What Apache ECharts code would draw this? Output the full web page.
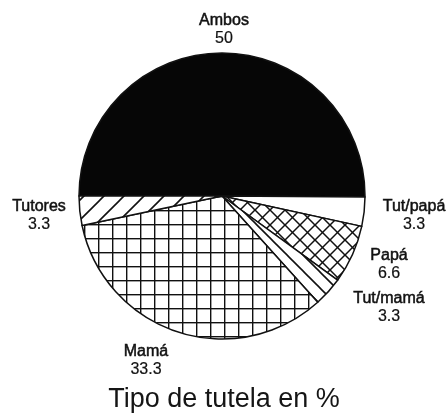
<!DOCTYPE html>
<html>
<head>
<meta charset="utf-8">
<script src="https://cdn.jsdelivr.net/npm/echarts@6/dist/echarts.min.js"></script>
<style>
  html, body { margin: 0; padding: 0; background: #fff; }
  #chart { width: 448px; height: 414px; }
</style>
</head>
<body>
<div id="chart"></div>
<script>
// Guardianship type shares (%)
const categories = ['Ambos', 'Tut/papá', 'Papá', 'Tut/mamá', 'Mamá', 'Tutores'];
const values = [50, 3.3, 6.6, 3.3, 33.3, 3.3];

// Where each two-line label block is centred (pixels)
const labelAnchors = [
  [224, 30], [414, 216], [389, 265], [389, 308], [146, 361], [39, 216]
];

const INK = '#111';
const LABEL_FONT = '"Liberation Sans", Arial, sans-serif';

function tile(size, lineWidth, draw) {
  const c = document.createElement('canvas');
  c.width = size; c.height = size;
  const ctx = c.getContext('2d');
  ctx.fillStyle = '#fff';
  ctx.fillRect(0, 0, size, size);
  ctx.strokeStyle = INK;
  ctx.lineWidth = lineWidth;
  ctx.lineCap = 'square';
  draw(ctx, size);
  return { image: c, repeat: 'repeat' };
}

function seg(ctx, x1, y1, x2, y2) {
  ctx.beginPath(); ctx.moveTo(x1, y1); ctx.lineTo(x2, y2); ctx.stroke();
}

// "/" hatching
const slashFill = tile(20, 1.6, (ctx, s) => {
  seg(ctx, -2, s + 2, s + 2, -2);
  seg(ctx, -2, 2, 2, -2);
  seg(ctx, s - 2, s + 2, s + 2, s - 2);
});
// "\" hatching
const backslashFill = tile(16, 1.6, (ctx, s) => {
  seg(ctx, -2, -2, s + 2, s + 2);
  seg(ctx, s - 2, -2, s + 2, 2);
  seg(ctx, -2, s - 2, 2, s + 2);
});
// diagonal cross-hatching
const crossFill = tile(15, 1.5, (ctx, s) => {
  seg(ctx, -2, -2, s + 2, s + 2);
  seg(ctx, s - 2, -2, s + 2, 2);
  seg(ctx, -2, s - 2, 2, s + 2);
  seg(ctx, -2, s + 2, s + 2, -2);
  seg(ctx, -2, 2, 2, -2);
  seg(ctx, s - 2, s + 2, s + 2, s - 2);
});
// square grid
const gridFill = tile(14, 1.4, (ctx, s) => {
  seg(ctx, 0.7, 0, 0.7, s);
  seg(ctx, 0, 0.7, s, 0.7);
});

const fills = ['#060606', '#ffffff', crossFill, backslashFill, gridFill, slashFill];

const chart = echarts.init(document.getElementById('chart'), null, { renderer: 'canvas' });

chart.setOption({
  animation: false,
  backgroundColor: '#fff',
  title: {
    text: 'Tipo de tutela en %',
    left: 'center',
    top: 381,
    textStyle: {
      fontFamily: 'Liberation Sans, Arial, sans-serif',
      fontSize: 27,
      fontWeight: 'normal',
      color: '#151515'
    }
  },
  series: [{
    type: 'pie',
    center: [222, 196],
    radius: 143,
    startAngle: 180,
    clockwise: true,
    avoidLabelOverlap: false,
    emphasis: { disabled: true },
    itemStyle: { borderColor: INK, borderWidth: 1.5 },
    label: {
      show: true,
      position: 'outside',
      formatter: '{n|{b}}\n{v|{c}}',
      rich: {
        n: {
          fontFamily: LABEL_FONT,
          fontSize: 16, color: '#111',
          textBorderColor: '#111', textBorderWidth: 0.5,
          align: 'center', lineHeight: 18
        },
        v: {
          fontFamily: LABEL_FONT,
          fontSize: 16, color: '#111',
          textBorderColor: '#111', textBorderWidth: 0.2,
          align: 'center', lineHeight: 18
        }
      }
    },
    labelLine: { show: false },
    labelLayout: function (p) {
      const a = labelAnchors[p.dataIndex];
      return { x: a[0], y: a[1], align: 'center', verticalAlign: 'middle' };
    },
    data: categories.map((name, i) => ({
      name: name,
      value: values[i],
      itemStyle: { color: fills[i] }
    }))
  }]
});
</script>
</body>
</html>
